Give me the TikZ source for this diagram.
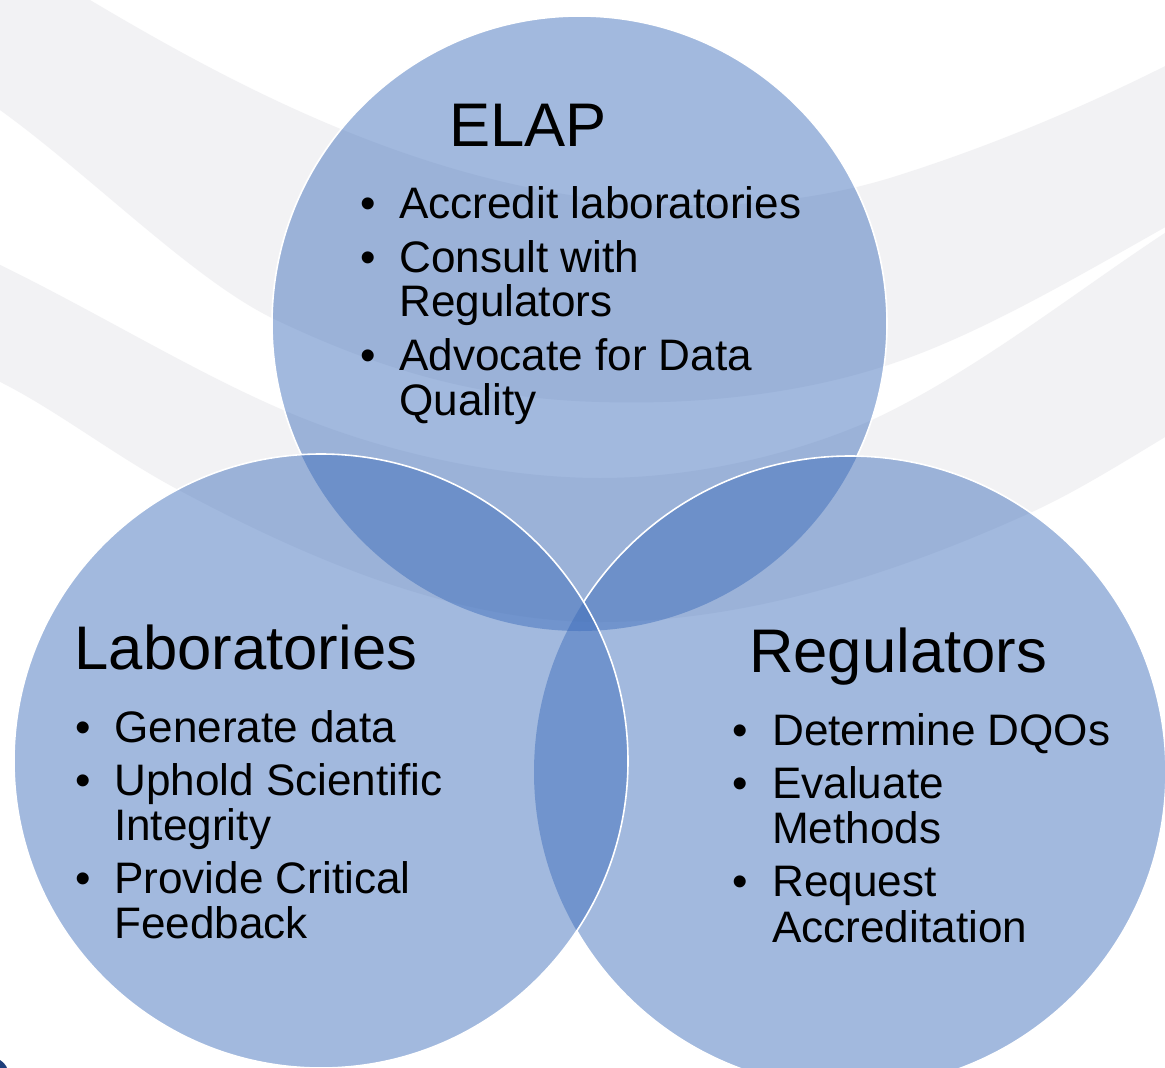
\documentclass[tikz,border=0pt]{standalone}
\usepackage{fontspec}
\setmainfont{Liberation Sans}
\definecolor{vennblue}{RGB}{58,107,186}
\definecolor{bandgray}{RGB}{242,242,244}
\definecolor{cornerblue}{RGB}{31,62,122}
\begin{document}
\begin{tikzpicture}[x=1pt,y=-1pt,
  venn/.style={circle, inner sep=0pt, fill=vennblue, fill opacity=0.47},
  rim/.style={draw=white, line width=1.6pt},
  ttl/.style={anchor=base west, inner sep=0pt, font=\fontsize{61.6}{62}\selectfont},
  itm/.style={anchor=base west, inner sep=0pt, font=\fontsize{44.1}{44}\selectfont},
  bul/.style={anchor=base, inner sep=0pt, font=\fontsize{44.1}{44}\selectfont}
]
\useasboundingbox[fill=white] (0,0) rectangle (1165,1068);
\begin{scope}
\clip (0,0) rectangle (1165,1068);
% background swooshes
\fill[bandgray] (-10,-10) -- (80,-10) -- (90,0)
  .. controls (250,95) and (450,200) .. (680,205)
  .. controls (780,207) and (850,190) .. (890,178)
  .. controls (980,150) and (1080,110) .. (1185,56)
  -- (1185,216)
  .. controls (1080,275) and (980,335) .. (888,365)
  .. controls (800,394) and (700,405) .. (600,402)
  .. controls (480,399) and (380,370) .. (272,318)
  .. controls (190,278) and (80,165) .. (-10,103)
  -- cycle;
\fill[bandgray] (-10,260)
  .. controls (90,308) and (190,370) .. (283,410)
  .. controls (380,452) and (500,478) .. (600,478)
  .. controls (700,478) and (800,452) .. (872,420)
  .. controls (980,370) and (1090,280) .. (1185,220)
  -- (1185,425)
  .. controls (1130,458) and (1080,490) .. (1032,512)
  .. controls (900,572) and (750,622) .. (600,622)
  .. controls (450,622) and (300,555) .. (175,488)
  .. controls (110,453) and (50,405) .. (-10,377)
  -- cycle;
\fill[cornerblue] (0,1060) .. controls (3,1062) and (6,1065) .. (7,1068) -- (0,1068) -- cycle;

% circles
\node[venn, minimum size=615pt] (elap) at (579.5,323.5) {};
\begin{scope}
  \clip (850,772) circle[radius=316] (-50,-50) -- (-50,1150) -- (1250,1150) -- (1250,-50) -- cycle;
  \clip (321,761) circle[radius=307] (-50,-50) -- (-50,1150) -- (1250,1150) -- (1250,-50) -- cycle;
  \draw[rim] (elap.center) circle[radius=307.5];
\end{scope}
\node[venn, minimum size=632pt] (regs) at (850,772) {};
\begin{scope}
  \clip (321,761) circle[radius=307] (-50,-50) -- (-50,1150) -- (1250,1150) -- (1250,-50) -- cycle;
  \draw[rim] (regs.center) circle[radius=316];
\end{scope}
\node[venn, minimum size=614pt] (labs) at (321,761) {};
\draw[rim] (labs.center) circle[radius=307];

% ELAP text
\node[ttl] (t1) at (449,146) {ELAP};
\node[bul] (b11) at (368,218) {•};
\node[itm] (e1) at (399,218) {Accredit laboratories};
\node[bul] (b12) at (368,272) {•};
\node[itm] (e2) at (399,272) {Consult with};
\node[itm] (e3) at (399,316) {Regulators};
\node[bul] (b13) at (368,370) {•};
\node[itm] (e4) at (399,370) {Advocate for Data};
\node[itm] (e5) at (399,415) {Quality};

% Laboratories text
\node[ttl] (t2) at (74.5,669) {Laboratories};
\node[bul] (b21) at (83,742) {•};
\node[itm] (l1) at (114,742) {Generate data};
\node[bul] (b22) at (83,795) {•};
\node[itm] (l2) at (114,795) {Uphold Scientific};
\node[itm] (l3) at (114,840) {Integrity};
\node[bul] (b23) at (83,893) {•};
\node[itm] (l4) at (114,893) {Provide Critical};
\node[itm] (l5) at (114,938) {Feedback};

% Regulators text
\node[ttl] (t3) at (749,672) {Regulators};
\node[bul] (b31) at (740,745) {•};
\node[itm] (r1) at (772,745) {Determine DQOs};
\node[bul] (b32) at (740,798) {•};
\node[itm] (r2) at (772,798) {Evaluate};
\node[itm] (r3) at (772,843) {Methods};
\node[bul] (b33) at (740,896) {•};
\node[itm] (r4) at (772,896) {Request};
\node[itm] (r5) at (772,942) {Accreditation};
\end{scope}
\end{tikzpicture}
\end{document}
